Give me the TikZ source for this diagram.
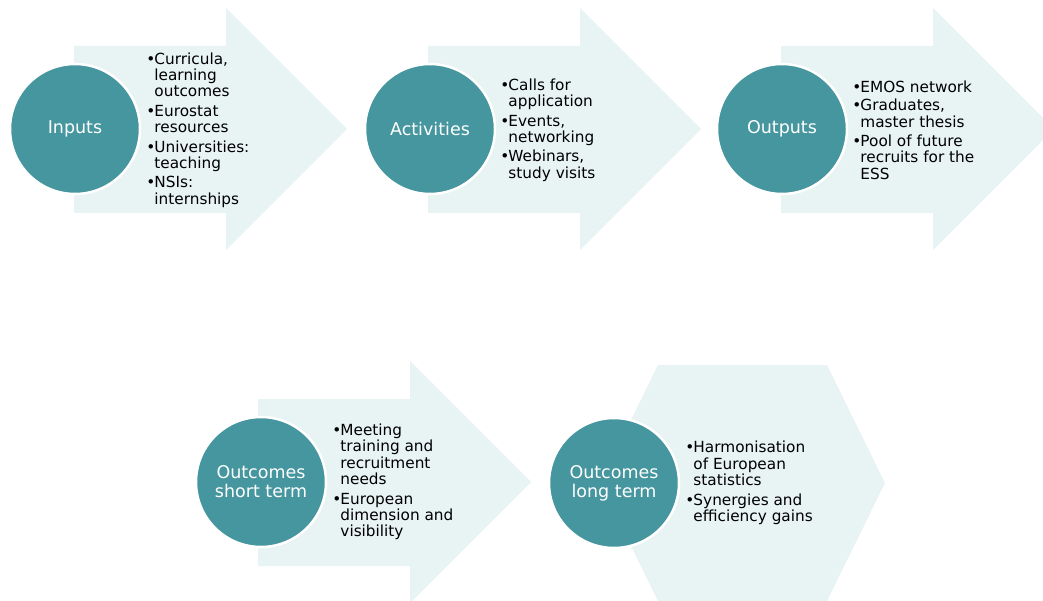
\documentclass[tikz,border=0pt]{standalone}
\usepackage{fontspec}
\setmainfont{DejaVu Sans}
\usepackage{tikz}
\usetikzlibrary{positioning}

\definecolor{circfill}{RGB}{69,150,158}
\definecolor{arrfill}{RGB}{232,243,244}

\newcommand\itembul{\makebox[8pt][l]{\textbullet}}
\newcommand\listind{\hspace*{8pt}}

\begin{document}
\begin{tikzpicture}
		[
		x = 1pt, y = -1pt,
		arrowshape/.style = {fill = arrfill},
		stage/.style = {circle, fill = circfill, draw = white, line width = 2.5pt,
			minimum size = 130pt, inner sep = 0pt, align = center, text = white,
			font = \fontsize{17.5}{19}\selectfont},
		items/.style = {anchor = west, inner sep = 0pt, align = left,
			font = \fontsize{15.3}{16.4}\selectfont}
		]
		
		\useasboundingbox (0,0) rectangle (1043,601);
		
		% arrows, top row and bottom row
		\foreach \dx/\dy in {0/0, 354/0, 707/0, 184/353}
			\fill[arrowshape, shift = {(\dx,\dy)}]
				(74,46) -- (226,46) -- (226,8) -- (347,129) -- (226,250)
				-- (226,213) -- (74,213) -- cycle;
		
		% last step is a hexagon
		\fill[arrowshape] (600,483) -- (658,365) -- (827,365) -- (885,483)
			-- (827,601) -- (658,601) -- cycle;
		
		\node[stage] (inputs) at (75,129) {Inputs};
		\node[stage] (activities) at (430,129) {Activities};
		\node[stage] (outputs) at (782,129) {Outputs};
		\node[stage] (shortterm) at (261,482) {Outcomes\\short term};
		\node[stage] (longterm) at (614,483) {Outcomes\\long term};
		
		\node[items, right = 5pt of inputs, yshift = -1pt] (inputsitems) {%
			\itembul Curricula,\\ \listind learning\\ \listind outcomes\\[3pt]
			\itembul Eurostat\\ \listind resources\\[3pt]
			\itembul Universities:\\ \listind teaching\\[3pt]
			\itembul NSIs:\\ \listind internships};
		\node[items, right = 4pt of activities, yshift = -1pt] (activitiesitems) {%
			\itembul Calls for\\ \listind application\\[3pt]
			\itembul Events,\\ \listind networking\\[3pt]
			\itembul Webinars,\\ \listind study visits};
		\node[items, right = 4pt of outputs, yshift = -1pt] (outputsitems) {%
			\itembul EMOS network\\[2pt]
			\itembul Graduates,\\ \listind master thesis\\[3pt]
			\itembul Pool of future\\ \listind recruits for the\\ \listind ESS};
		\node[items, right = 5pt of shortterm] (shorttermitems) {%
			\itembul Meeting\\ \listind training and\\ \listind recruitment\\ \listind needs\\[3pt]
			\itembul European\\ \listind dimension and\\ \listind visibility};
		\node[items, right = 5pt of longterm] (longtermitems) {%
			\itembul Harmonisation\\ \listind of European\\ \listind statistics\\[3pt]
			\itembul Synergies and\\ \listind efficiency gains};
		
\end{tikzpicture}
\end{document}
